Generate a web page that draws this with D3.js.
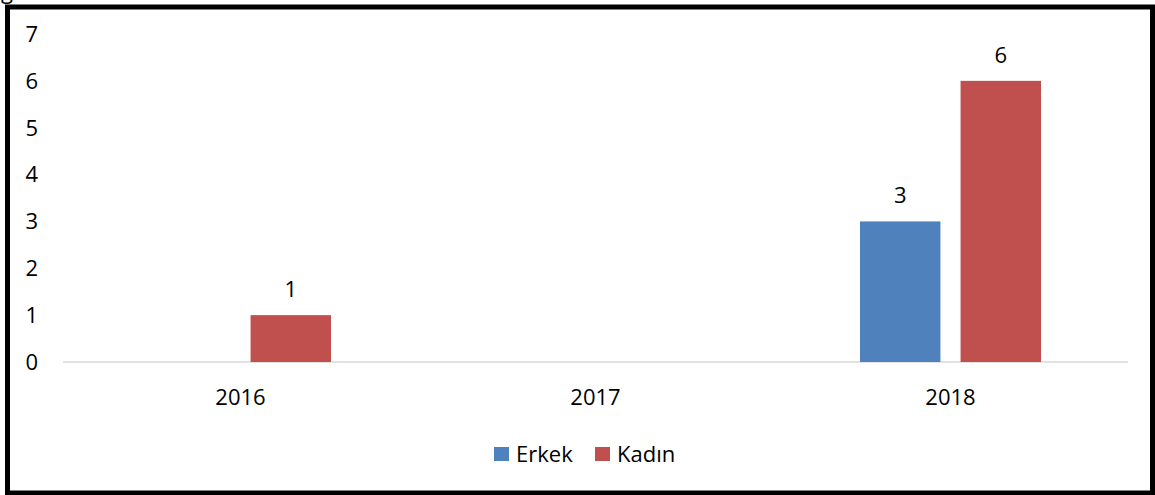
<!doctype html>
<html>
<head>
<meta charset='utf-8'>
<style>
  body { margin: 0; background: #fff; }
  svg { display: block; font-family: 'Open Sans', 'Noto Sans', sans-serif; }
</style>
</head>
<body>
<div id='chart'></div>
<script src='https://cdn.jsdelivr.net/npm/d3@7/dist/d3.min.js'></script>
<script>

const years = ['2016', '2017', '2018'];
const seriesNames = ['Erkek', 'Kadın'];
const erkek = [0, 0, 3];
const kadin = [1, 0, 6];
const yTicks = [0, 1, 2, 3, 4, 5, 6, 7];

const colors = { 'Erkek': '#4F81BD', 'Kadın': '#C0504D' };

const W = 1155, H = 495;
const plot = {l: 63, r: 1128, t: 34, b: 362};

const svg = d3.select('#chart')
  .append('svg')
  .attr('width', W)
  .attr('height', H);

// outer frame
svg.append('rect')
  .attr('x', 7.5).attr('y', 7)
  .attr('width', 1145).attr('height', 486)
  .attr('fill', 'none')
  .attr('stroke', '#000')
  .attr('stroke-width', 5);

// cut-off caption fragment at the very top
svg.append('text')
  .attr('x', 1).attr('y', -1)
  .style('font-size', '22px')
  .text('g');

const y = d3.scaleLinear()
  .domain([0, 7])
  .range([plot.b, plot.t]);

const x0 = d3.scaleBand()
  .domain(years)
  .range([plot.l, plot.r])
  .paddingInner(0.49)
  .paddingOuter(0.245);

const x1 = d3.scaleBand()
  .domain(seriesNames)
  .range([0, x0.bandwidth()])
  .paddingInner(0.2);

// y tick labels
svg.append('g')
  .selectAll('text')
  .data(yTicks)
  .enter()
  .append('text')
  .attr('x', 38)
  .attr('y', d => y(d))
  .attr('dy', '0.36em')
  .attr('text-anchor', 'end')
  .style('font-size', '22px')
  .text(d => d);

// baseline
svg.append('line')
  .attr('x1', plot.l).attr('x2', plot.r)
  .attr('y1', y(0)).attr('y2', y(0))
  .attr('stroke', '#D9D9D9')
  .attr('stroke-width', 1.5);

// category labels
svg.append('g')
  .selectAll('text')
  .data(years)
  .enter()
  .append('text')
  .attr('x', d => x0(d) + x0.bandwidth() / 2)
  .attr('y', 405)
  .attr('text-anchor', 'middle')
  .style('font-size', '22px')
  .text(d => d);

const rows = years.map((yr, i) => ({
  year: yr,
  values: [
    {name: 'Erkek', value: erkek[i]},
    {name: 'Kadın', value: kadin[i]}
  ]
}));

const groups = svg.append('g')
  .selectAll('.group')
  .data(rows)
  .enter()
  .append('g')
  .attr('class', 'group')
  .attr('transform', d => `translate(${x0(d.year)},0)`);

const bars = groups.selectAll('.bar')
  .data(d => d.values.filter(v => v.value > 0))
  .enter();

bars.append('rect')
  .attr('x', d => x1(d.name))
  .attr('y', d => y(d.value))
  .attr('width', x1.bandwidth())
  .attr('height', d => y(0) - y(d.value))
  .style('fill', d => colors[d.name]);

bars.append('text')
  .attr('x', d => x1(d.name) + x1.bandwidth() / 2)
  .attr('y', d => y(d.value) - 18)
  .attr('text-anchor', 'middle')
  .style('font-size', '22px')
  .text(d => d.value);

// legend
const legendX = [494, 595];
const legend = svg.append('g')
  .selectAll('g')
  .data(seriesNames)
  .enter()
  .append('g')
  .attr('transform', (d, i) => `translate(${legendX[i]}, 447)`);

legend.append('rect')
  .attr('width', 15).attr('height', 14)
  .style('fill', d => colors[d]);

legend.append('text')
  .attr('x', 22)
  .attr('y', 15)
  .style('font-size', '22px')
  .text(d => d);

</script>
</body>
</html>
